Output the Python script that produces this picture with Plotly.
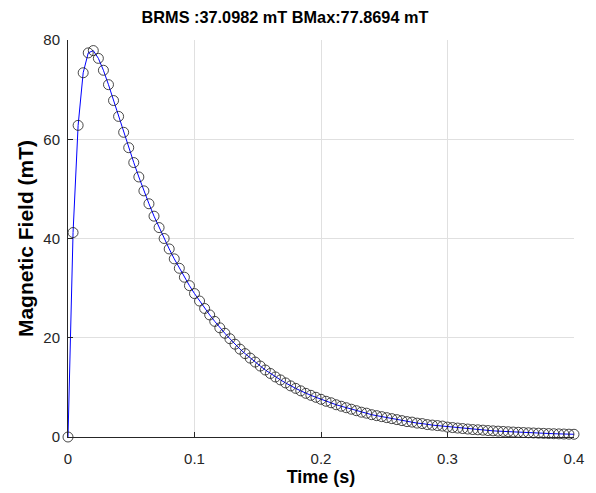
import plotly.graph_objects as go

# Time samples (s)
time_s = [round(0.004 * k, 3) for k in range(101)]

# Magnetic field (mT)
field_mT = [
    0.0, 41.2, 62.8, 73.4, 77.4, 77.87, 76.3, 73.9, 71.0, 67.8,
    64.6, 61.4, 58.3, 55.3, 52.4, 49.6, 47.0, 44.5, 42.2, 40.0,
    37.9, 35.9, 34.0, 32.2, 30.5, 28.9, 27.4, 25.9, 24.6, 23.3,
    22.0, 20.9, 19.8, 18.7, 17.7, 16.8, 15.9, 15.1, 14.3, 13.5,
    12.8, 12.1, 11.5, 10.9, 10.3, 9.8, 9.3, 8.8, 8.4, 8.0,
    7.6, 7.2, 6.9, 6.5, 6.2, 5.9, 5.6, 5.3, 5.0, 4.8,
    4.5, 4.3, 4.1, 3.9, 3.7, 3.5, 3.3, 3.1, 3.0, 2.8,
    2.7, 2.5, 2.4, 2.3, 2.2, 2.0, 1.9, 1.8, 1.7, 1.6,
    1.5, 1.45, 1.38, 1.3, 1.24, 1.18, 1.12, 1.06, 1.0, 0.95,
    0.9, 0.85, 0.81, 0.77, 0.73, 0.69, 0.66, 0.63, 0.6, 0.57, 0.55,
]

x_ticks = [0, 0.1, 0.2, 0.3, 0.4]
x_tick_labels = ["0", "0.1", "0.2", "0.3", "0.4"]
y_ticks = [0, 20, 40, 60, 80]
y_tick_labels = ["0", "20", "40", "60", "80"]

title_text = "BRMS :37.0982 mT BMax:77.8694 mT"

font_family = "Liberation Sans, Arial, sans-serif"

fig = go.Figure()
fig.add_trace(go.Scatter(
    x=time_s, y=field_mT,
    mode="lines+markers",
    line=dict(color="#0000ff", width=1),
    marker=dict(symbol="circle-open", size=10, color="#1a1a1a",
                line=dict(width=0.8)),
    cliponaxis=False,
    showlegend=False,
))

axis_common = dict(
    showline=True, linecolor="#262626", linewidth=1,
    ticks="inside", ticklen=5, tickwidth=1, tickcolor="#262626",
    showgrid=True, gridcolor="#e0e0e0", gridwidth=1,
    zeroline=False,
    tickfont=dict(family=font_family, size=15, color="#262626"),
)

fig.update_layout(
    width=596, height=493,
    margin=dict(l=68, r=19, t=40, b=54),
    paper_bgcolor="white", plot_bgcolor="white",
    font=dict(family=font_family, color="#000000"),
    title=dict(text=title_text, x=285 / 596, xref="container", xanchor="center",
               y=1 - 17 / 493, yref="container", yanchor="middle",
               font=dict(family=font_family, size=16.3, weight="bold", color="#000000")),
    xaxis=dict(range=[0, 0.4], tickvals=x_ticks, ticktext=x_tick_labels,
               ticklabelstandoff=8,
               title=dict(text="Time (s)", standoff=1,
                          font=dict(family=font_family, size=18, weight="bold", color="#000000")),
               **axis_common),
    yaxis=dict(range=[0, 80], tickvals=y_ticks, ticktext=y_tick_labels,
               ticklabelstandoff=4,
               title=dict(text="Magnetic Field (mT)", standoff=3,
                          font=dict(family=font_family, size=21, weight="bold", color="#000000")),
               **axis_common),
)

fig.write_html("out.html")
